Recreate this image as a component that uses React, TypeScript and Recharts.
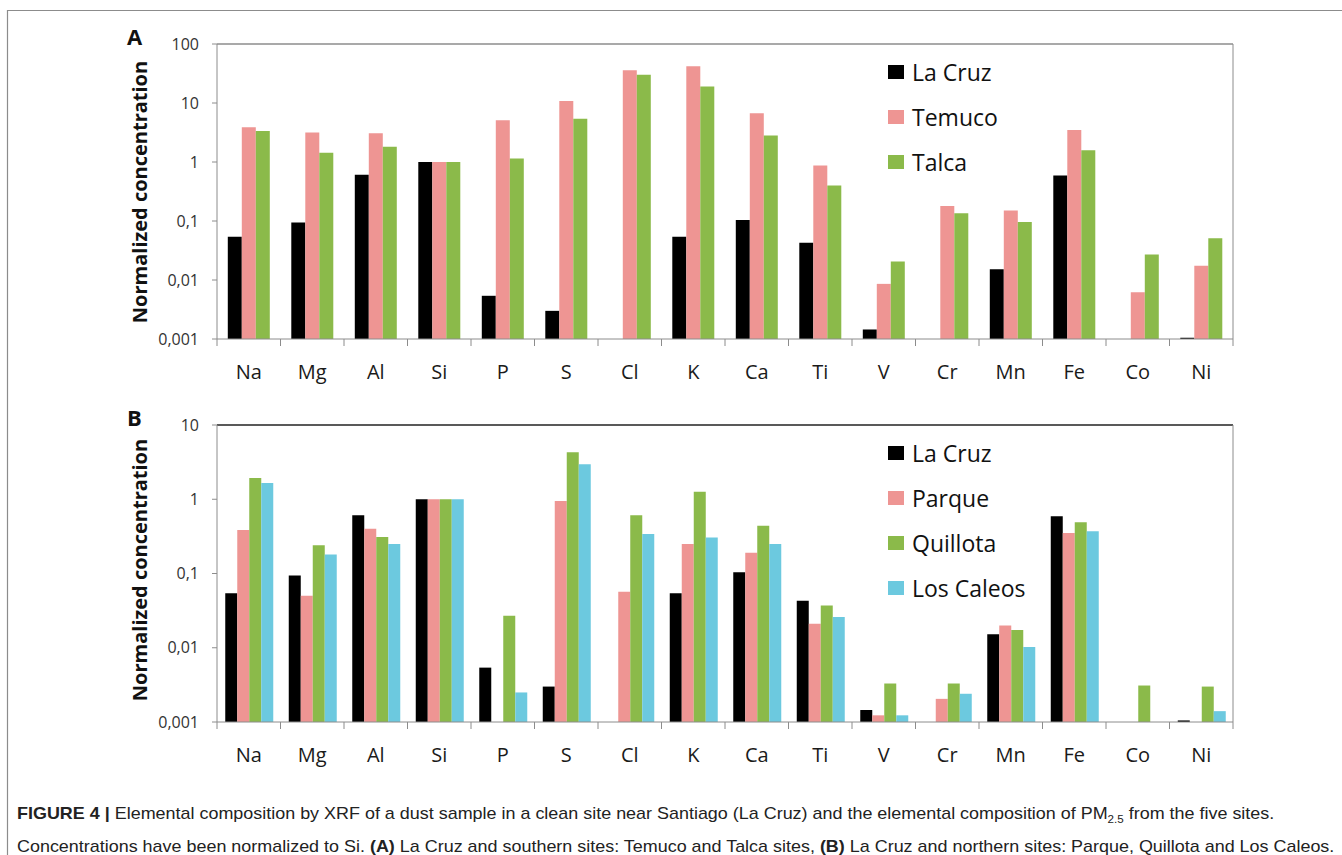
import React from 'react';
import { BarChart, Bar, XAxis, YAxis, ReferenceLine, Legend } from 'recharts';

const elements = ['Na', 'Mg', 'Al', 'Si', 'P', 'S', 'Cl', 'K', 'Ca', 'Ti', 'V', 'Cr', 'Mn', 'Fe', 'Co', 'Ni'];

// concentrations normalized to Si (null = not detected)
const laCruz = [0.054, 0.094, 0.61, 1, 0.0054, 0.003, null, 0.054, 0.104, 0.043, 0.00145, 0.00097, 0.0152, 0.59, null, 0.00105];
const temuco = [3.9, 3.15, 3.07, 1, 5.1, 10.8, 35.8, 41.9, 6.7, 0.87, 0.0086, 0.18, 0.15, 3.47, 0.0062, 0.0175];
const talca = [3.35, 1.44, 1.82, 1, 1.15, 5.4, 30, 19, 2.8, 0.4, 0.0205, 0.135, 0.096, 1.58, 0.027, 0.051];
const parque = [0.385, 0.05, 0.4, 1, null, 0.95, 0.057, 0.25, 0.19, 0.021, 0.00123, 0.00205, 0.0199, 0.35, null, null];
const quillota = [1.93, 0.24, 0.31, 1, 0.027, 4.3, 0.61, 1.26, 0.44, 0.037, 0.0033, 0.0033, 0.0174, 0.49, 0.0031, 0.003];
const losCaleos = [1.66, 0.18, 0.25, 1, 0.0025, 2.95, 0.34, 0.305, 0.25, 0.026, 0.00123, 0.0024, 0.0102, 0.37, null, 0.0014];

const ticksA = [0.001, 0.01, 0.1, 1, 10, 100];
const ticksB = [0.001, 0.01, 0.1, 1, 10];

const dataA = elements.map((el, i) => ({ el, laCruz: laCruz[i], temuco: temuco[i], talca: talca[i] }));
const dataB = elements.map((el, i) => ({
  el,
  laCruz: laCruz[i],
  parque: parque[i],
  quillota: quillota[i],
  losCaleos: losCaleos[i],
}));

const BLACK = '#000000';
const PINK = '#ee9593';
const GREEN = '#8bba4a';
const CYAN = '#6cc9df';
const AXIS = '#8c8c8c';
const FONT = '"Open Sans", "DejaVu Sans", sans-serif';

const W = 1342;
const PLOT_LEFT = 217;
const PLOT_RIGHT = 1233;
const BAND = (PLOT_RIGHT - PLOT_LEFT) / elements.length;

const fmt = (v: number) => String(v).replace('.', ',');

// category label plus Excel-style tick marks between categories;
// the last tick also closes the plot frame on the right
const ElementTick = (props: any) => {
  const { x, y, payload, index, plotH } = props;
  const last = index === elements.length - 1;
  return (
    <g>
      <line x1={x - BAND / 2} x2={x - BAND / 2} y1={y} y2={y + 7} stroke={AXIS} />
      {last && <line x1={x + BAND / 2} x2={x + BAND / 2} y1={y - plotH} y2={y + 7} stroke={AXIS} />}
      <text x={x} y={y + 40} textAnchor="middle" fontSize={20} fill="#1a1a1a" fontFamily={FONT}>
        {payload.value}
      </text>
    </g>
  );
};

const LegendList = ({ payload, order }: any) => {
  const items = [...(payload || [])].sort(
    (a: any, b: any) => order.indexOf(a.dataKey) - order.indexOf(b.dataKey)
  );
  return (
    <div style={{ fontFamily: FONT }}>
      {items.map((p: any) => (
        <div key={p.value} style={{ display: 'flex', alignItems: 'center', height: 45 }}>
          <span style={{ width: 16, height: 14, background: p.color, marginRight: 8, display: 'inline-block' }} />
          <span style={{ fontSize: 23, color: '#111' }}>{p.value}</span>
        </div>
      ))}
    </div>
  );
};

const yTick = { fontSize: 16, fill: '#333', fontFamily: FONT };

const Panel = ({
  data,
  ticks,
  top,
  bottom,
  topStroke,
  legendTop,
  order,
  children,
}: {
  data: any[];
  ticks: number[];
  top: number;
  bottom: number;
  topStroke: string;
  legendTop: number;
  order: string[];
  children: React.ReactNode;
}) => {
  const plotH = 390 - top - bottom - 40;
  return (
    <BarChart
      width={W}
      height={390}
      data={data}
      margin={{ top, right: W - PLOT_RIGHT, left: PLOT_LEFT - 60, bottom }}
      barGap={0}
      barCategoryGap={order.length === 3 ? '17%' : '13%'}
    >
      <XAxis
        dataKey="el"
        interval={0}
        tickSize={0}
        tickMargin={0}
        tickLine={false}
        height={40}
        axisLine={{ stroke: AXIS }}
        tick={<ElementTick plotH={plotH} />}
      />
      <YAxis
        scale="log"
        domain={[ticks[0], ticks[ticks.length - 1]]}
        ticks={ticks}
        allowDataOverflow
        width={60}
        tickSize={5}
        tickMargin={13}
        tickFormatter={fmt}
        axisLine={{ stroke: AXIS }}
        tickLine={{ stroke: AXIS }}
        tick={yTick}
      />
      <ReferenceLine y={ticks[ticks.length - 1]} stroke={topStroke} strokeWidth={1.5} />
      <Legend
        layout="vertical"
        align="center"
        verticalAlign="middle"
        content={<LegendList order={order} />}
        wrapperStyle={{ left: 888, top: legendTop, width: 200 }}
      />
      {children}
    </BarChart>
  );
};

const YLabel = ({ cy }: { cy: number }) => (
  <text
    transform={`translate(139 ${cy}) rotate(-90)`}
    textAnchor="middle"
    dominantBaseline="central"
    fontSize={20}
    fontWeight={700}
    fontFamily={FONT}
    fill="#111"
  >
    Normalized concentration
  </text>
);

export default function App() {
  return (
    <div style={{ position: 'absolute', left: 0, top: 0, width: W, height: 855, background: '#fff', overflow: 'hidden' }}>
      <div style={{ position: 'absolute', left: 0, top: 0 }}>
        <Panel
          data={dataA}
          ticks={ticksA}
          top={44}
          bottom={11}
          topStroke={AXIS}
          legendTop={49}
          order={['laCruz', 'temuco', 'talca']}
        >
          <Bar dataKey="laCruz" name="La Cruz" fill={BLACK} isAnimationActive={false} />
          <Bar dataKey="temuco" name="Temuco" fill={PINK} isAnimationActive={false} />
          <Bar dataKey="talca" name="Talca" fill={GREEN} isAnimationActive={false} />
        </Panel>
      </div>
      <div style={{ position: 'absolute', left: 0, top: 390 }}>
        <Panel
          data={dataB}
          ticks={ticksB}
          top={35}
          bottom={18}
          topStroke="#222"
          legendTop={40}
          order={['laCruz', 'parque', 'quillota', 'losCaleos']}
        >
          <Bar dataKey="laCruz" name="La Cruz" fill={BLACK} isAnimationActive={false} />
          <Bar dataKey="parque" name="Parque" fill={PINK} isAnimationActive={false} />
          <Bar dataKey="quillota" name="Quillota" fill={GREEN} isAnimationActive={false} />
          <Bar dataKey="losCaleos" name="Los Caleos" fill={CYAN} isAnimationActive={false} />
        </Panel>
      </div>
      <svg width={W} height={855} style={{ position: 'absolute', left: 0, top: 0, pointerEvents: 'none' }}>
        <line x1={7} x2={W} y1={10.5} y2={10.5} stroke={AXIS} strokeWidth={1.2} />
        <line x1={7.5} x2={7.5} y1={10} y2={855} stroke={AXIS} strokeWidth={1.2} />
        <text x={127} y={45} fontSize={22} fontWeight={700} fontFamily={FONT} fill="#111">A</text>
        <text x={127} y={426} fontSize={22} fontWeight={700} fontFamily={FONT} fill="#111">B</text>
        <YLabel cy={192} />
        <YLabel cy={570} />
      </svg>
      <div
        style={{
          position: 'absolute',
          left: 17,
          top: 800,
          fontFamily: '"Liberation Sans", Arial, sans-serif',
          fontSize: 17,
          lineHeight: '27px',
          color: '#222',
          whiteSpace: 'nowrap',
          transform: 'scaleX(1.055)',
          transformOrigin: 'left top',
        }}
      >
        <div>
          <b>FIGURE 4 |</b> Elemental composition by XRF of a dust sample in a clean site near Santiago (La Cruz) and the
          elemental composition of PM<sub style={{ fontSize: 11 }}>2.5</sub> from the five sites.
        </div>
        <div>
          Concentrations have been normalized to Si. <b>(A)</b> La Cruz and southern sites: Temuco and Talca sites,{' '}
          <b>(B)</b> La Cruz and northern sites: Parque, Quillota and Los Caleos.
        </div>
      </div>
    </div>
  );
}
